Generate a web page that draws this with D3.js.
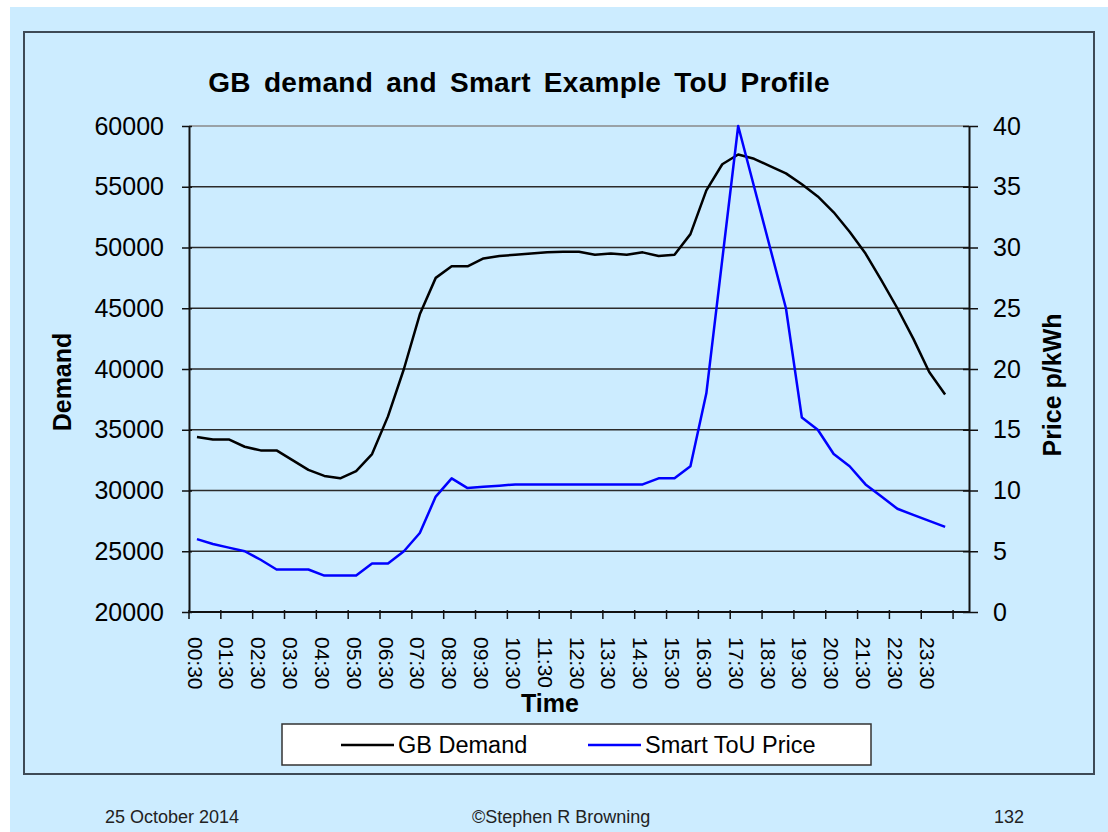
<!DOCTYPE html>
<html>
<head>
<meta charset="utf-8">
<script src="https://cdn.jsdelivr.net/npm/d3@7"></script>
<style>
  html, body { margin: 0; padding: 0; background: #ffffff; }
  svg { display: block; font-family: "Liberation Sans", Arial, sans-serif; }
</style>
</head>
<body>
<div id="chart"></div>
<script>
// Half-hour periods (last category is an empty slot, as in the original sheet)
const times = [
    '00:30', '01:00', '01:30', '02:00', '02:30', '03:00', '03:30', '04:00',
    '04:30', '05:00', '05:30', '06:00', '06:30', '07:00', '07:30', '08:00',
    '08:30', '09:00', '09:30', '10:00', '10:30', '11:00', '11:30', '12:00',
    '12:30', '13:00', '13:30', '14:00', '14:30', '15:00', '15:30', '16:00',
    '16:30', '17:00', '17:30', '18:00', '18:30', '19:00', '19:30', '20:00',
    '20:30', '21:00', '21:30', '22:00', '22:30', '23:00', '23:30', '00:00', ''
];

// GB demand (MW)
const demand = [
    34400, 34200, 34200, 33600, 33300, 33300, 32500, 31700, 31200, 31000,
    31600, 33000, 36100, 40000, 44500, 47500, 48450, 48450, 49100, 49300,
    49400, 49500, 49600, 49650, 49650, 49400, 49500, 49400, 49600, 49300,
    49400, 51100, 54700, 56850, 57650, 57300, 56700, 56100, 55200, 54200,
    52900, 51300, 49500, 47300, 45000, 42500, 39750, 37900
];

// Smart ToU price (p/kWh)
const price = [
    6, 5.6, 5.3, 5, 4.3, 3.5, 3.5, 3.5, 3, 3,
    3, 4, 4, 5, 6.5, 9.5, 11, 10.2, 10.3, 10.4,
    10.5, 10.5, 10.5, 10.5, 10.5, 10.5, 10.5, 10.5, 10.5, 11,
    11, 12, 18, 29, 40, 35, 30, 25, 16, 15,
    13, 12, 10.5, 9.5, 8.5, 8, 7.5, 7
];

const demandTicks = [20000, 25000, 30000, 35000, 40000, 45000, 50000, 55000, 60000];
const priceTicks = [0, 5, 10, 15, 20, 25, 30, 35, 40];

const W = 1108, H = 832;
const plot = { left: 189, right: 969, top: 126, bottom: 612 };

const svg = d3.select('#chart')
    .append('svg')
    .attr('width', W)
    .attr('height', H);

// Slide background
svg.append('rect')
    .attr('x', 10).attr('y', 7)
    .attr('width', W - 10).attr('height', H - 7)
    .attr('fill', '#ccecff');

// Chart frame
svg.append('rect')
    .attr('x', 24).attr('y', 32)
    .attr('width', 1070).attr('height', 742)
    .attr('fill', 'none')
    .attr('stroke', '#3e4a56')
    .attr('stroke-width', 2);

// Scales
const x = d3.scaleBand()
    .domain(times)
    .range([plot.left, plot.right])
    .padding(0);
const cx = d => x(d) + x.bandwidth() / 2;

const yL = d3.scaleLinear().domain([20000, 60000]).range([plot.bottom, plot.top]);
const yR = d3.scaleLinear().domain([0, 40]).range([plot.bottom, plot.top]);

// Gridlines
svg.append('g')
    .selectAll('line')
    .data(demandTicks.slice(1))
    .enter().append('line')
    .attr('x1', plot.left)
    .attr('x2', plot.right)
    .attr('y1', d => yL(d))
    .attr('y2', d => yL(d))
    .attr('stroke', d => d === 60000 ? '#8a8a8a' : '#2a2a2a')
    .attr('stroke-width', 1.5);

// Left axis
const axL = svg.append('g')
    .attr('transform', `translate(${plot.left},0)`)
    .call(d3.axisLeft(yL).tickValues(demandTicks).tickFormat(d3.format('d'))
        .tickSize(7).tickSizeOuter(0).tickPadding(18));
axL.selectAll('.tick line').attr('x1', 3).attr('stroke', '#111').attr('stroke-width', 1.5);

// Right axis
const axR = svg.append('g')
    .attr('transform', `translate(${plot.right},0)`)
    .call(d3.axisRight(yR).tickValues(priceTicks).tickFormat(d3.format('d'))
        .tickSize(9).tickSizeOuter(0).tickPadding(15));
axR.selectAll('.tick line').attr('x1', -6).attr('stroke', '#111').attr('stroke-width', 1.5);

[axL, axR].forEach(ax => {
    ax.attr('font-family', null).attr('font-size', null);
    ax.select('.domain').attr('stroke', '#111').attr('stroke-width', 2);
    ax.selectAll('text')
        .style('font-size', '25px')
        .attr('fill', '#000');
});

// Bottom axis: tick marks on category boundaries every two periods
const boundaryCats = times.filter((d, i) => i % 2 === 0);
const axB = svg.append('g');
axB.append('line')
    .attr('x1', plot.left).attr('x2', plot.right)
    .attr('y1', plot.bottom).attr('y2', plot.bottom)
    .attr('stroke', '#111')
    .attr('stroke-width', 2);
axB.selectAll('.xtick')
    .data(boundaryCats)
    .enter().append('line')
    .attr('class', 'xtick')
    .attr('x1', d => x(d)).attr('x2', d => x(d))
    .attr('y1', plot.bottom - 2).attr('y2', plot.bottom + 7)
    .attr('stroke', '#111')
    .attr('stroke-width', 1.5);

// Bottom labels, rotated to read downwards
axB.selectAll('.xlabel')
    .data(boundaryCats.filter(d => d !== ''))
    .enter().append('text')
    .attr('class', 'xlabel')
    .attr('transform', d => `translate(${cx(d) - 2},${plot.bottom + 25}) rotate(90)`)
    .attr('dy', '0.35em')
    .attr('text-anchor', 'start')
    .style('font-size', '21px')
    .attr('fill', '#000')
    .text(d => d);

// Lines
const demandLine = d3.line()
    .x((d, i) => cx(times[i]))
    .y(d => yL(d));
const priceLine = d3.line()
    .x((d, i) => cx(times[i]))
    .y(d => yR(d));

svg.append('path')
    .datum(demand)
    .attr('d', demandLine)
    .attr('fill', 'none')
    .attr('stroke', '#000')
    .attr('stroke-width', 2.5)
    .attr('stroke-linejoin', 'round');

svg.append('path')
    .datum(price)
    .attr('d', priceLine)
    .attr('fill', 'none')
    .attr('stroke', '#0000ff')
    .attr('stroke-width', 2.5)
    .attr('stroke-linejoin', 'round');

// Titles
svg.append('text')
    .attr('x', 519)
    .attr('y', 92)
    .attr('text-anchor', 'middle')
    .style('font-size', '28px')
    .style('font-weight', 'bold')
    .style('letter-spacing', '0.3px')
    .style('word-spacing', '5px')
    .text('GB demand and Smart Example ToU Profile');

svg.append('text')
    .attr('transform', 'translate(62,382) rotate(-90)')
    .attr('dy', '0.35em')
    .attr('text-anchor', 'middle')
    .style('font-size', '25px')
    .style('font-weight', 'bold')
    .text('Demand');

svg.append('text')
    .attr('transform', 'translate(1052,385) rotate(-90)')
    .attr('dy', '0.35em')
    .attr('text-anchor', 'middle')
    .style('font-size', '25px')
    .style('font-weight', 'bold')
    .text('Price p/kWh');

svg.append('text')
    .attr('x', 550)
    .attr('y', 712)
    .attr('text-anchor', 'middle')
    .style('font-size', '25px')
    .style('font-weight', 'bold')
    .text('Time');

// Legend
const legendData = [
    { label: 'GB Demand', color: '#000', x: 341 },
    { label: 'Smart ToU Price', color: '#0000ff', x: 588 }
];

svg.append('rect')
    .attr('x', 282).attr('y', 724)
    .attr('width', 589).attr('height', 41)
    .attr('fill', '#fff')
    .attr('stroke', '#333')
    .attr('stroke-width', 1.5);

const legend = svg.selectAll('.legend-item')
    .data(legendData)
    .enter().append('g')
    .attr('class', 'legend-item')
    .attr('transform', d => `translate(${d.x},745)`);

legend.append('line')
    .attr('x1', 0).attr('x2', 53)
    .attr('stroke', d => d.color)
    .attr('stroke-width', 2.5);

legend.append('text')
    .attr('x', 57)
    .attr('dy', '0.35em')
    .style('font-size', '23.5px')
    .text(d => d.label);

// Footer
const footer = [
    { text: '25 October 2014', x: 105, anchor: 'start' },
    { text: '\u00A9Stephen R Browning', x: 472, anchor: 'start' },
    { text: '132', x: 1024, anchor: 'end' }
];
svg.selectAll('.footer')
    .data(footer)
    .enter().append('text')
    .attr('class', 'footer')
    .attr('x', d => d.x)
    .attr('y', 823)
    .attr('text-anchor', d => d.anchor)
    .style('font-size', '18px')
    .attr('fill', '#222')
    .text(d => d.text);
</script>
</body>
</html>
